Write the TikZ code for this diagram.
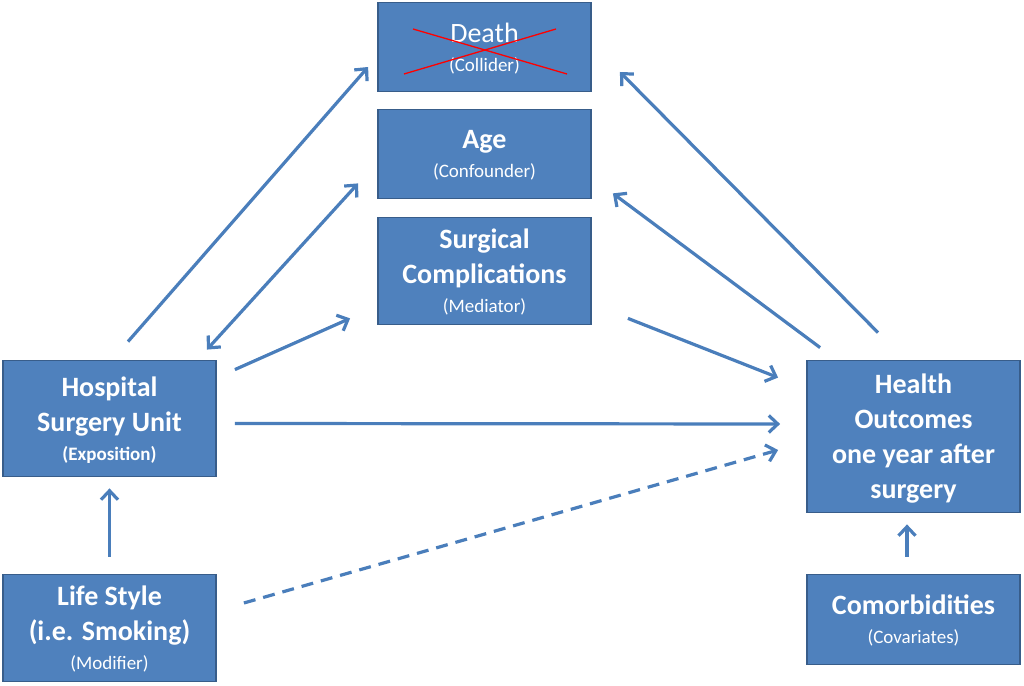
\documentclass[tikz,border=0pt]{standalone}
\usepackage{fontspec}
\setmainfont{Carlito}
\usetikzlibrary{arrows.meta}

\definecolor{boxfill}{HTML}{4F81BD}
\definecolor{boxline}{HTML}{385D8A}
\definecolor{arrowblue}{HTML}{4A7EBB}

\newcommand{\subtxt}[1]{{\fontsize{19}{23}\selectfont\mdseries #1}}
\newcommand{\subbold}[1]{{\fontsize{19}{23}\selectfont\bfseries #1}}

\tikzset{
  varbox/.style={rectangle, draw=boxline, line width=1.8pt, fill=boxfill,
    text=white, align=center, minimum width=213pt, inner sep=2pt, text depth=0pt,
    font=\fontsize{28}{35}\selectfont\bfseries},
  link/.style={draw=arrowblue, line width=3.2pt,
    -{Straight Barb[length=9pt,width=17pt,line width=3.2pt]}},
  dlink/.style={link, {Straight Barb[length=9pt,width=17pt,line width=3.2pt]}-{Straight Barb[length=9pt,width=17pt,line width=3.2pt]}},
}

\begin{document}
\begin{tikzpicture}[x=1pt,y=1pt]

      \useasboundingbox (0,0) rectangle (1024,685);

      \begin{scope}[every node/.style={varbox}]
        \node[minimum height=89pt]  (death)  at (484.5,638)   {\mdseries Death\\[-6pt]\subtxt{(Collider)}};
        \node[minimum height=89pt]  (age)    at (484.5,531)   {Age\\[-6pt]\subtxt{(Confounder)}};
        \node[minimum height=107pt] (surg)   at (484.5,414)   {Surgical\\Complications\\[-6pt]\subtxt{(Mediator)}};
        \node[minimum height=116pt] (hosp)   at (109.5,266.5) {Hospital\\Surgery Unit\\[-6pt]\subbold{(Exposition)}};
        \node[minimum height=107pt] (life)   at (109.5,57)    {Life Style\\(i.e. Smoking)\\[-6pt]\subtxt{(Modifier)}};
        \node[minimum height=152pt] (health) at (913.5,248.5) {Health\\Outcomes\\one year after\\surgery};
        \node[minimum height=90pt]  (comorb) at (913.5,65.5)  {Comorbidities\\[-6pt]\subtxt{(Covariates)}};
      \end{scope}

      % struck out collider
      \draw[red, line width=1.3pt] ([xshift=-71.5pt,yshift=18pt]death.center) -- ([xshift=82.5pt,yshift=-27pt]death.center);
      \draw[red, line width=1.3pt] ([xshift=-80.5pt,yshift=-27pt]death.center) -- ([xshift=71.5pt,yshift=18pt]death.center);

      \begin{scope}[every path/.style={link}]
        \draw ([xshift=18.5pt,yshift=18pt]hosp.north) -- ([xshift=-9pt,yshift=-20pt]death.west);
        \draw[dlink] ([xshift=-10pt,yshift=10pt]hosp.north east) -- ([xshift=-19pt,yshift=16pt]age.south west);
        \draw ([xshift=18pt,yshift=-10pt]hosp.north east) -- ([xshift=-27pt,yshift=7pt]surg.south west);
        \draw ([xshift=18pt,yshift=-5pt]hosp.east) -- ([xshift=-26pt,yshift=12.5pt]health.west);
        \draw ([xshift=36pt,yshift=7pt]surg.south east) -- ([xshift=-28pt,yshift=-18pt]health.north west);
        \draw ([xshift=14pt,yshift=12pt]health.north west) -- ([xshift=21pt,yshift=6pt]age.south east);
        \draw ([xshift=-35.5pt,yshift=27pt]health.north) -- ([xshift=28pt,yshift=-25pt]death.east);
        \draw[dash pattern=on 12pt off 8pt] ([xshift=27pt,yshift=25pt]life.east) -- ([xshift=-28pt,yshift=-13.5pt]health.west);
        \draw ([yshift=17pt]life.north) -- ([yshift=-11pt]hosp.south);
        \draw ([xshift=-6.5pt,yshift=17pt]comorb.north) -- ([xshift=-6.5pt,yshift=-11pt]health.south);
      \end{scope}

    \end{tikzpicture}
\end{document}
